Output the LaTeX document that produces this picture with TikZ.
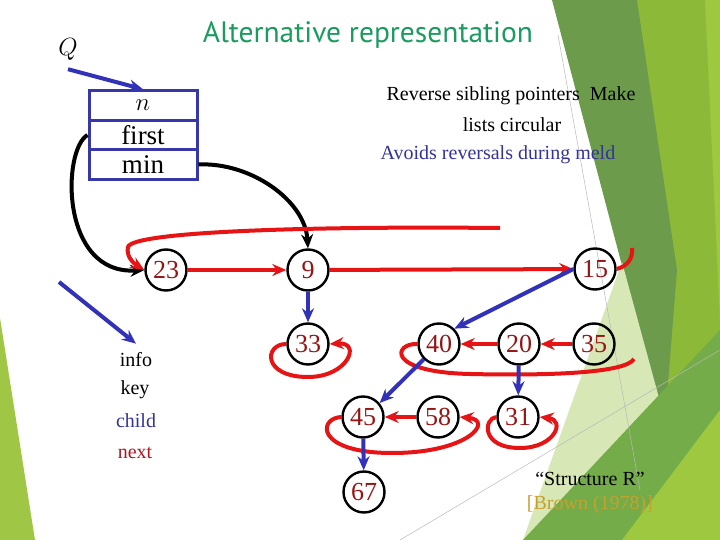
\documentclass[tikz,border=0pt]{standalone}
\usepackage{fontspec}
\setmainfont{Liberation Serif}
\newfontfamily\titlefont{PT Sans}
\usetikzlibrary{arrows.meta}
\definecolor{numred}{RGB}{150,20,20}
\definecolor{linered}{RGB}{230,20,20}
\definecolor{lineblue}{RGB}{50,50,185}
\definecolor{boxblue}{RGB}{55,55,170}
\definecolor{textblue}{RGB}{51,51,153}
\definecolor{nextred}{RGB}{175,20,30}
\definecolor{titlegreen}{RGB}{28,155,95}
\definecolor{goldtext}{RGB}{200,160,45}
\definecolor{gDark}{RGB}{107,155,75}
\definecolor{gBase}{RGB}{140,186,56}
\definecolor{gLight}{RGB}{157,200,64}
\definecolor{gPale}{RGB}{215,232,182}
\definecolor{gMid}{RGB}{115,172,72}
\definecolor{gLeft}{RGB}{160,198,70}
\begin{document}
\begin{tikzpicture}[x=1pt,y=-1pt,
  circ/.style={circle,draw=black,line width=2.4pt,minimum size=41pt,inner sep=0pt,text=numred,font=\fontsize{26}{26}\selectfont},
  rowbox/.style={rectangle,draw=boxblue,line width=3pt,minimum width=108pt,minimum height=29.5pt,inner sep=0pt,font=\fontsize{27}{27}\selectfont},
  redl/.style={draw=linered,line width=4pt},
  redarr/.style={redl,-{Stealth[length=14pt,width=12pt]}},
  bluearr/.style={draw=lineblue,line width=4pt,-{Stealth[length=14pt,width=12pt]}},
  blackarr/.style={draw=black,line width=4pt,-{Stealth[length=14pt,width=12pt]}},
  lbl/.style={font=\fontsize{20}{20}\selectfont,inner sep=1pt},
  faint/.style={draw=black!28,line width=0.5pt}]
\useasboundingbox (0,0) rectangle (720,540);
% background facets
\fill[gLeft] (0,318) -- (35,540) -- (0,540) -- cycle;
\fill[gBase] (637,0) -- (720,0) -- (720,540) -- (560,540) -- (665,420) -- cycle;
\fill[gLight] (705,0) -- (720,0) -- (720,320) -- cycle;
\fill[gDark] (552,0) -- (637,0) -- (677,270) -- (665,422) -- (620,258) -- cycle;
\fill[gPale] (622,262) -- (665,420) -- (523,540) -- cycle;
\fill[gMid] (523,540) -- (720,330) -- (720,540) -- cycle;
\fill[gLight] (622,540) -- (720,410) -- (720,540) -- cycle;
\coordinate (fa1) at (558,35);
\coordinate (fa2) at (640,490);
\coordinate (fb1) at (400,540);
\coordinate (fb2) at (720,350);
\draw[faint] (fa1) -- (fa2);
\draw[faint] (fb1) -- (fb2);
% title and texts
\node[text=titlegreen,font=\titlefont\fontsize{29.5}{29.5}\selectfont] (title) at (368,35) {Alternative representation};
\node[lbl] (t1) at (511,96) {Reverse sibling pointers\ \ Make};
\node[lbl] (t2) at (512,125) {lists circular};
\node[lbl,text=textblue] (t3) at (498,155) {Avoids reversals during meld};
\node[lbl] (sr) at (590,479) {``Structure R''};
\node[lbl,text=goldtext] (br) at (590,505) {[Brown (1978)]};
% legend
\node[lbl] (info) at (136,360) {info};
\node[lbl] (key) at (135,390) {key};
\node[lbl,text=textblue] (child) at (136,421) {child};
\node[lbl,text=nextred] (next) at (135,453) {next};
\coordinate (infotail) at (59,282);
\draw[bluearr] (infotail) -- ([yshift=8pt]info.north);
% Q and header box
\node[inner sep=0pt,minimum height=40pt,font=\fontsize{25}{25}\selectfont] (Q) at (68,49) {$Q$};
\node[rowbox] (rn) at (143,105.5) {$n$};
\node[rowbox] (rfirst) at (143,135) {first};
\node[rowbox] (rmin) at (143,164.5) {min};
\draw[bluearr] (Q.south) -- (rn.north);
% tree nodes
\node[circ] (n23) at (166,270) {23};
\node[circ] (n9) at (308,270) {9};
\node[circ] (n15) at (595,269) {15};
\node[circ] (n33) at (308,344) {33};
\node[circ] (n40) at (439,344) {40};
\node[circ] (n20) at (519,344) {20};
\node[circ] (n35) at (594,344) {35};
\node[circ] (n45) at (363,417) {45};
\node[circ] (n58) at (438,417) {58};
\node[circ] (n31) at (518,417) {31};
\node[circ] (n67) at (364,492) {67};
% black pointers
\draw[blackarr] (rfirst.west) .. controls (62,150) and (60,275) .. (n23.west);
\draw[blackarr] (rmin.east) .. controls (250,162) and (305,200) .. (n9.north);
% red sibling pointers
\coordinate (topend) at (500,228);
\coordinate (hookend) at (632,248);
\coordinate (loopend) at (634,359);
\draw[redarr] (topend) .. controls (300,226) and (132,232) .. (128,247) .. controls (126,256) and (133,263) .. (n23.west);
\draw[redl] (n15.east) .. controls (628,266) and (633,258) .. (hookend);
\draw[redarr] (n23) -- (n9);
\draw[redarr] (n9) -- (n15);
\draw[redarr] (n35) -- (n20);
\draw[redarr] (n20) -- (n40);
\draw[redarr] (n58) -- (n45);
\draw[redarr] (n33.west) .. controls (264,344) and (262,377) .. (308,377) .. controls (348,377) and (362,342) .. (n33.east);
\draw[redl] (n40.west) .. controls (394,343) and (385,372) .. (470,374) .. controls (560,376) and (626,372) .. (loopend);
\draw[redarr] (n45.west) .. controls (318,418) and (315,453) .. (392,453) .. controls (470,453) and (494,420) .. (n58.east);
\draw[redarr] (n31.west) .. controls (484,418) and (480,448) .. (520,448) .. controls (555,448) and (566,420) .. (n31.east);
% blue child pointers
\draw[bluearr] (n9) -- (n33);
\draw[bluearr] (n15.west) -- (n40.45);
\draw[bluearr] (n20) -- (n31);
\draw[bluearr] (n40.225) -- (n45.40);
\draw[bluearr] (n45) -- (n67);
\end{tikzpicture}
\end{document}
